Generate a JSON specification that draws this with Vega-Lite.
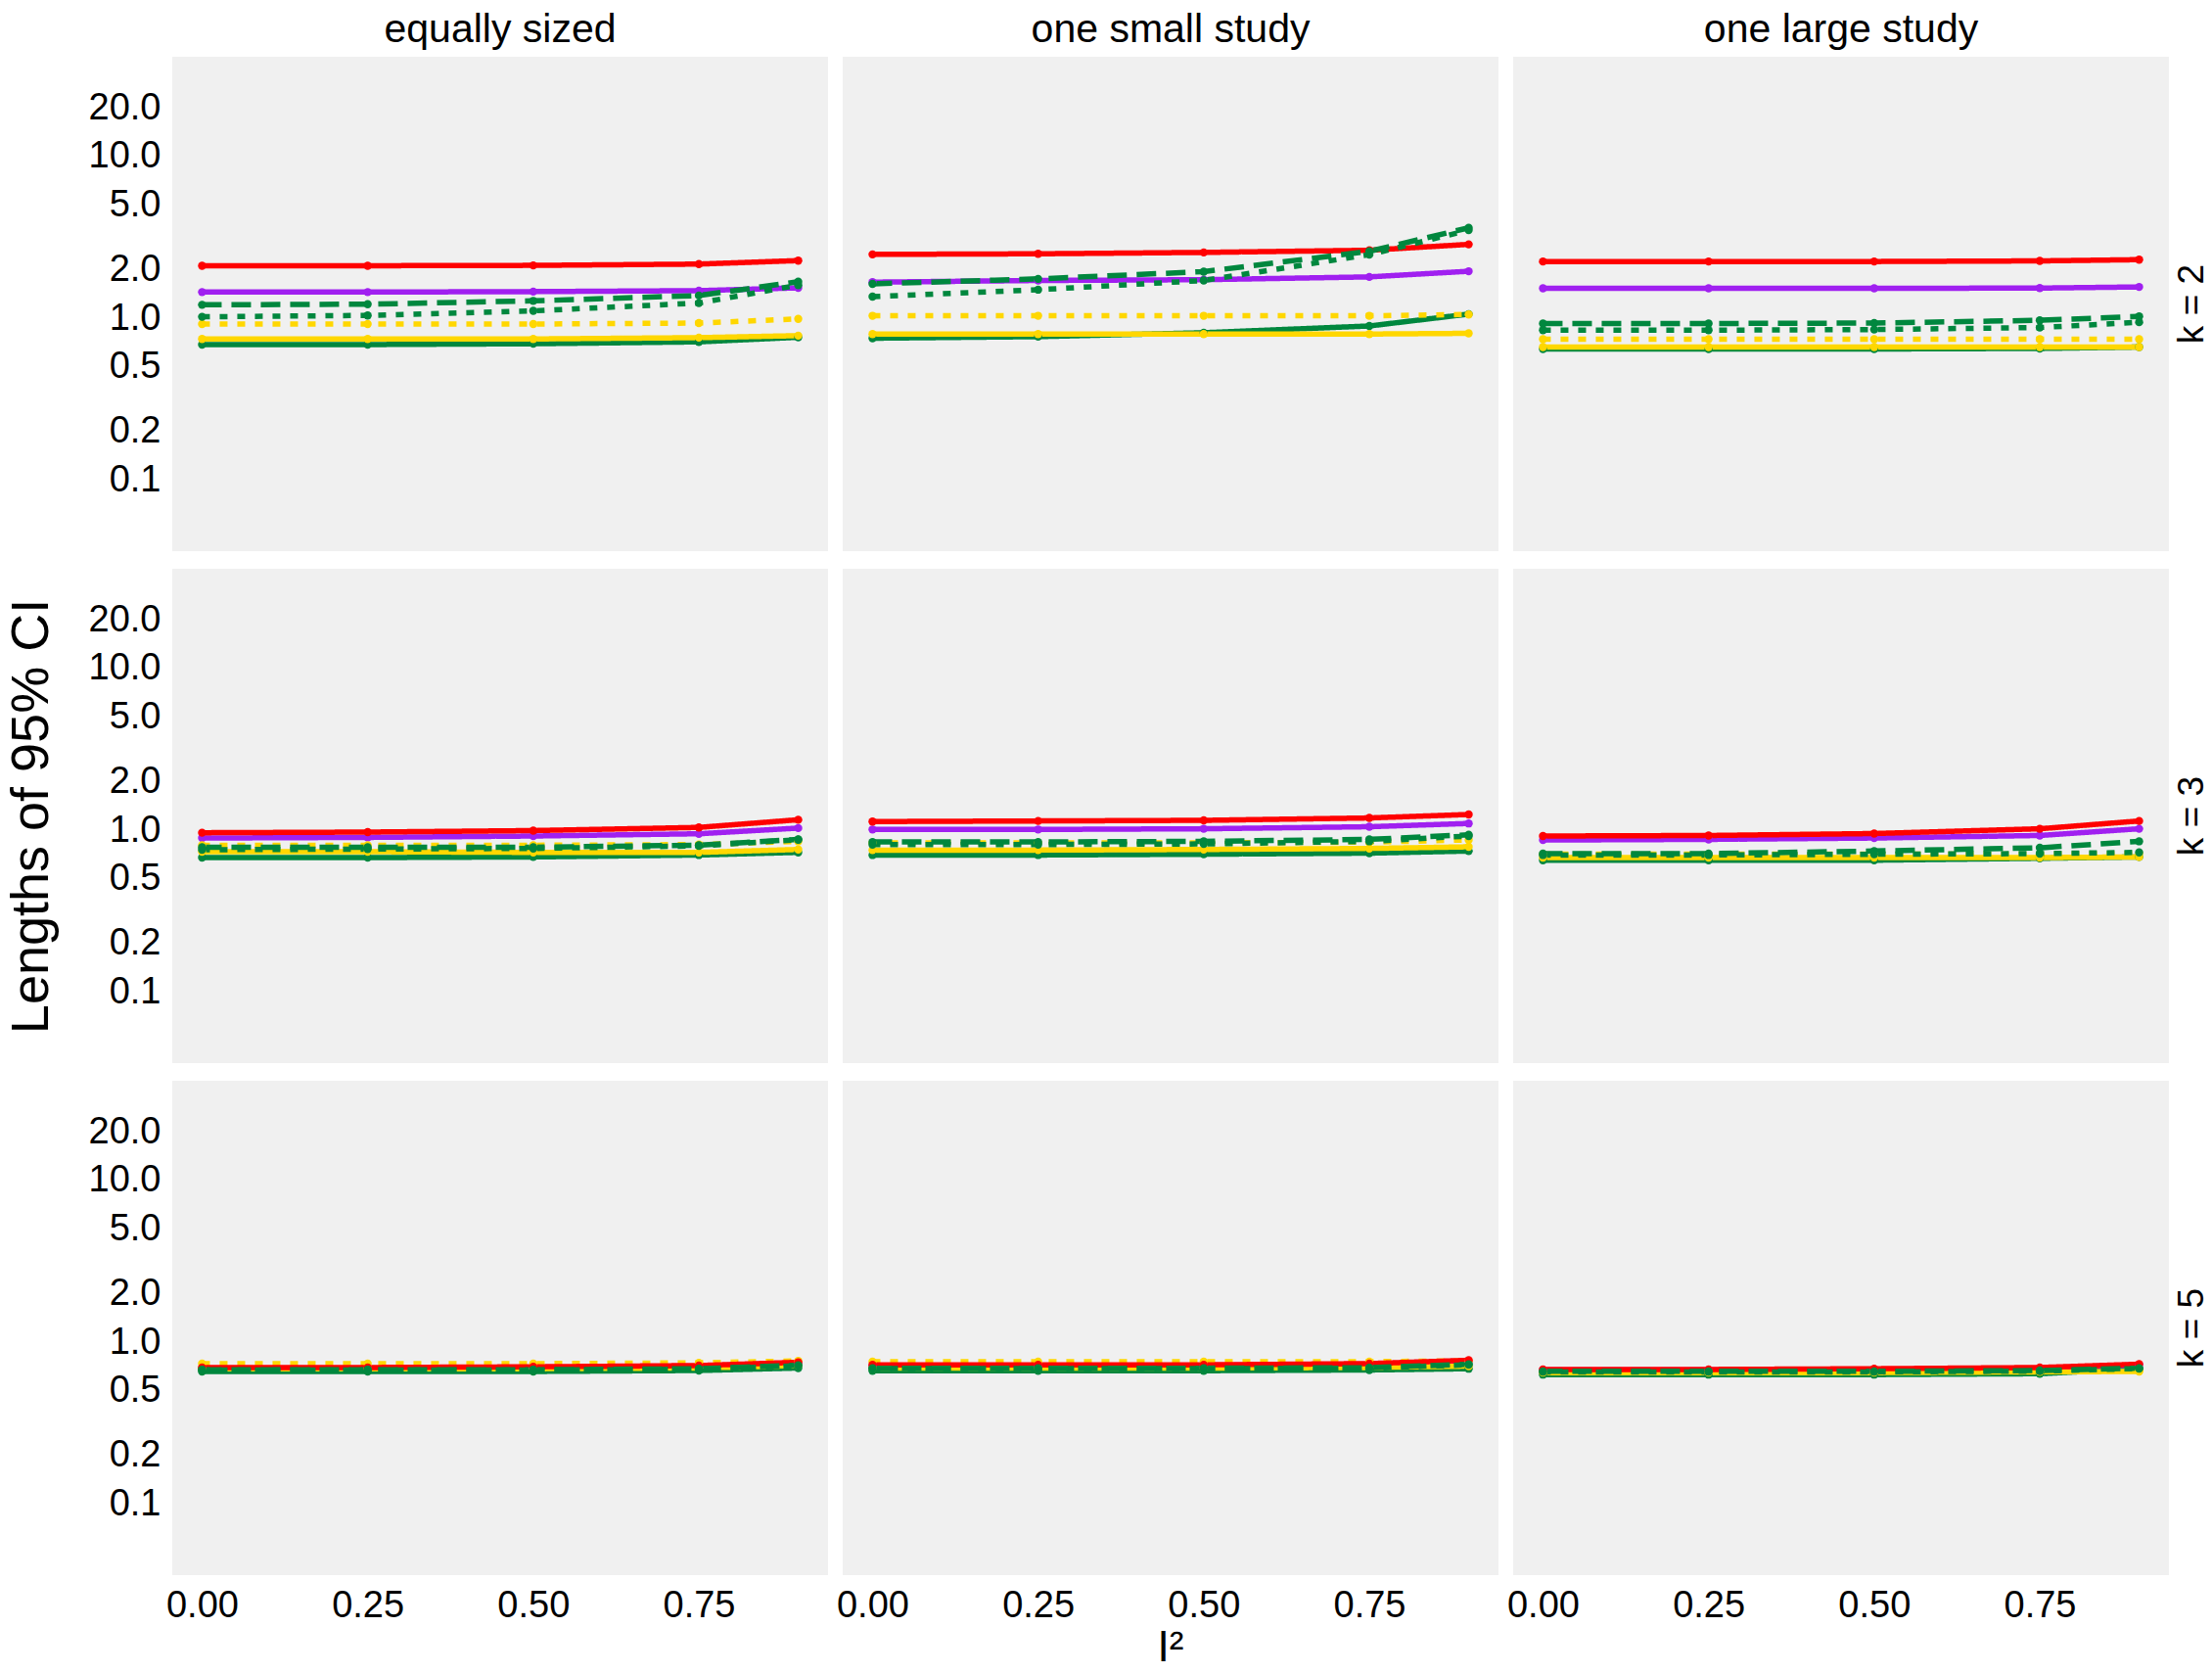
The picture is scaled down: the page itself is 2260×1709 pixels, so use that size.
{
"$schema": "https://vega.github.io/schema/vega-lite/v6.json",
"background": "white",
"padding": {"left": 5, "top": 10, "right": 0, "bottom": 0},
"datasets": {"ci": [
{"d":"equally sized","k":"k = 2","m":"m1","x":0,"y":0.687},{"d":"equally sized","k":"k = 2","m":"m1","x":0.25,"y":0.687},{"d":"equally sized","k":"k = 2","m":"m1","x":0.5,"y":0.695},{"d":"equally sized","k":"k = 2","m":"m1","x":0.75,"y":0.714},{"d":"equally sized","k":"k = 2","m":"m1","x":0.9,"y":0.762},
{"d":"equally sized","k":"k = 2","m":"m2","x":0,"y":1.45},{"d":"equally sized","k":"k = 2","m":"m2","x":0.25,"y":1.45},{"d":"equally sized","k":"k = 2","m":"m2","x":0.5,"y":1.46},{"d":"equally sized","k":"k = 2","m":"m2","x":0.75,"y":1.48},{"d":"equally sized","k":"k = 2","m":"m2","x":0.9,"y":1.54},
{"d":"equally sized","k":"k = 2","m":"m3","x":0,"y":0.744},{"d":"equally sized","k":"k = 2","m":"m3","x":0.25,"y":0.744},{"d":"equally sized","k":"k = 2","m":"m3","x":0.5,"y":0.744},{"d":"equally sized","k":"k = 2","m":"m3","x":0.75,"y":0.758},{"d":"equally sized","k":"k = 2","m":"m3","x":0.9,"y":0.78},
{"d":"equally sized","k":"k = 2","m":"m4","x":0,"y":0.92},{"d":"equally sized","k":"k = 2","m":"m4","x":0.25,"y":0.92},{"d":"equally sized","k":"k = 2","m":"m4","x":0.5,"y":0.92},{"d":"equally sized","k":"k = 2","m":"m4","x":0.75,"y":0.933},{"d":"equally sized","k":"k = 2","m":"m4","x":0.9,"y":0.99},
{"d":"equally sized","k":"k = 2","m":"m5","x":0,"y":2.11},{"d":"equally sized","k":"k = 2","m":"m5","x":0.25,"y":2.11},{"d":"equally sized","k":"k = 2","m":"m5","x":0.5,"y":2.12},{"d":"equally sized","k":"k = 2","m":"m5","x":0.75,"y":2.16},{"d":"equally sized","k":"k = 2","m":"m5","x":0.9,"y":2.27},
{"d":"equally sized","k":"k = 2","m":"m6","x":0,"y":1.02},{"d":"equally sized","k":"k = 2","m":"m6","x":0.25,"y":1.04},{"d":"equally sized","k":"k = 2","m":"m6","x":0.5,"y":1.11},{"d":"equally sized","k":"k = 2","m":"m6","x":0.75,"y":1.24},{"d":"equally sized","k":"k = 2","m":"m6","x":0.9,"y":1.6},
{"d":"equally sized","k":"k = 2","m":"m7","x":0,"y":1.21},{"d":"equally sized","k":"k = 2","m":"m7","x":0.25,"y":1.22},{"d":"equally sized","k":"k = 2","m":"m7","x":0.5,"y":1.28},{"d":"equally sized","k":"k = 2","m":"m7","x":0.75,"y":1.38},{"d":"equally sized","k":"k = 2","m":"m7","x":0.9,"y":1.68},

{"d":"one small study","k":"k = 2","m":"m1","x":0,"y":0.752},{"d":"one small study","k":"k = 2","m":"m1","x":0.25,"y":0.769},{"d":"one small study","k":"k = 2","m":"m1","x":0.5,"y":0.813},{"d":"one small study","k":"k = 2","m":"m1","x":0.75,"y":0.895},{"d":"one small study","k":"k = 2","m":"m1","x":0.9,"y":1.06},
{"d":"one small study","k":"k = 2","m":"m2","x":0,"y":1.67},{"d":"one small study","k":"k = 2","m":"m2","x":0.25,"y":1.71},{"d":"one small study","k":"k = 2","m":"m2","x":0.5,"y":1.73},{"d":"one small study","k":"k = 2","m":"m2","x":0.75,"y":1.8},{"d":"one small study","k":"k = 2","m":"m2","x":0.9,"y":1.95},
{"d":"one small study","k":"k = 2","m":"m3","x":0,"y":0.798},{"d":"one small study","k":"k = 2","m":"m3","x":0.25,"y":0.798},{"d":"one small study","k":"k = 2","m":"m3","x":0.5,"y":0.798},{"d":"one small study","k":"k = 2","m":"m3","x":0.75,"y":0.798},{"d":"one small study","k":"k = 2","m":"m3","x":0.9,"y":0.806},
{"d":"one small study","k":"k = 2","m":"m4","x":0,"y":1.035},{"d":"one small study","k":"k = 2","m":"m4","x":0.25,"y":1.035},{"d":"one small study","k":"k = 2","m":"m4","x":0.5,"y":1.035},{"d":"one small study","k":"k = 2","m":"m4","x":0.75,"y":1.035},{"d":"one small study","k":"k = 2","m":"m4","x":0.9,"y":1.054},
{"d":"one small study","k":"k = 2","m":"m5","x":0,"y":2.48},{"d":"one small study","k":"k = 2","m":"m5","x":0.25,"y":2.5},{"d":"one small study","k":"k = 2","m":"m5","x":0.5,"y":2.55},{"d":"one small study","k":"k = 2","m":"m5","x":0.75,"y":2.63},{"d":"one small study","k":"k = 2","m":"m5","x":0.9,"y":2.86},
{"d":"one small study","k":"k = 2","m":"m6","x":0,"y":1.36},{"d":"one small study","k":"k = 2","m":"m6","x":0.25,"y":1.5},{"d":"one small study","k":"k = 2","m":"m6","x":0.5,"y":1.71},{"d":"one small study","k":"k = 2","m":"m6","x":0.75,"y":2.47},{"d":"one small study","k":"k = 2","m":"m6","x":0.9,"y":3.5},
{"d":"one small study","k":"k = 2","m":"m7","x":0,"y":1.63},{"d":"one small study","k":"k = 2","m":"m7","x":0.25,"y":1.75},{"d":"one small study","k":"k = 2","m":"m7","x":0.5,"y":1.94},{"d":"one small study","k":"k = 2","m":"m7","x":0.75,"y":2.59},{"d":"one small study","k":"k = 2","m":"m7","x":0.9,"y":3.62},

{"d":"one large study","k":"k = 2","m":"m1","x":0,"y":0.645},{"d":"one large study","k":"k = 2","m":"m1","x":0.25,"y":0.645},{"d":"one large study","k":"k = 2","m":"m1","x":0.5,"y":0.645},{"d":"one large study","k":"k = 2","m":"m1","x":0.75,"y":0.65},{"d":"one large study","k":"k = 2","m":"m1","x":0.9,"y":0.663},
{"d":"one large study","k":"k = 2","m":"m2","x":0,"y":1.53},{"d":"one large study","k":"k = 2","m":"m2","x":0.25,"y":1.53},{"d":"one large study","k":"k = 2","m":"m2","x":0.5,"y":1.53},{"d":"one large study","k":"k = 2","m":"m2","x":0.75,"y":1.535},{"d":"one large study","k":"k = 2","m":"m2","x":0.9,"y":1.56},
{"d":"one large study","k":"k = 2","m":"m3","x":0,"y":0.663},{"d":"one large study","k":"k = 2","m":"m3","x":0.25,"y":0.663},{"d":"one large study","k":"k = 2","m":"m3","x":0.5,"y":0.663},{"d":"one large study","k":"k = 2","m":"m3","x":0.75,"y":0.663},{"d":"one large study","k":"k = 2","m":"m3","x":0.9,"y":0.663},
{"d":"one large study","k":"k = 2","m":"m4","x":0,"y":0.741},{"d":"one large study","k":"k = 2","m":"m4","x":0.25,"y":0.741},{"d":"one large study","k":"k = 2","m":"m4","x":0.5,"y":0.741},{"d":"one large study","k":"k = 2","m":"m4","x":0.75,"y":0.741},{"d":"one large study","k":"k = 2","m":"m4","x":0.9,"y":0.741},
{"d":"one large study","k":"k = 2","m":"m5","x":0,"y":2.24},{"d":"one large study","k":"k = 2","m":"m5","x":0.25,"y":2.24},{"d":"one large study","k":"k = 2","m":"m5","x":0.5,"y":2.24},{"d":"one large study","k":"k = 2","m":"m5","x":0.75,"y":2.26},{"d":"one large study","k":"k = 2","m":"m5","x":0.9,"y":2.3},
{"d":"one large study","k":"k = 2","m":"m6","x":0,"y":0.843},{"d":"one large study","k":"k = 2","m":"m6","x":0.25,"y":0.843},{"d":"one large study","k":"k = 2","m":"m6","x":0.5,"y":0.851},{"d":"one large study","k":"k = 2","m":"m6","x":0.75,"y":0.875},{"d":"one large study","k":"k = 2","m":"m6","x":0.9,"y":0.944},
{"d":"one large study","k":"k = 2","m":"m7","x":0,"y":0.927},{"d":"one large study","k":"k = 2","m":"m7","x":0.25,"y":0.927},{"d":"one large study","k":"k = 2","m":"m7","x":0.5,"y":0.933},{"d":"one large study","k":"k = 2","m":"m7","x":0.75,"y":0.97},{"d":"one large study","k":"k = 2","m":"m7","x":0.9,"y":1.025},

{"d":"equally sized","k":"k = 3","m":"m1","x":0,"y":0.677},{"d":"equally sized","k":"k = 3","m":"m1","x":0.25,"y":0.677},{"d":"equally sized","k":"k = 3","m":"m1","x":0.5,"y":0.683},{"d":"equally sized","k":"k = 3","m":"m1","x":0.75,"y":0.702},{"d":"equally sized","k":"k = 3","m":"m1","x":0.9,"y":0.729},
{"d":"equally sized","k":"k = 3","m":"m2","x":0,"y":0.894},{"d":"equally sized","k":"k = 3","m":"m2","x":0.25,"y":0.902},{"d":"equally sized","k":"k = 3","m":"m2","x":0.5,"y":0.92},{"d":"equally sized","k":"k = 3","m":"m2","x":0.75,"y":0.95},{"d":"equally sized","k":"k = 3","m":"m2","x":0.9,"y":1.03},
{"d":"equally sized","k":"k = 3","m":"m3","x":0,"y":0.736},{"d":"equally sized","k":"k = 3","m":"m3","x":0.25,"y":0.736},{"d":"equally sized","k":"k = 3","m":"m3","x":0.5,"y":0.729},{"d":"equally sized","k":"k = 3","m":"m3","x":0.75,"y":0.729},{"d":"equally sized","k":"k = 3","m":"m3","x":0.9,"y":0.76},
{"d":"equally sized","k":"k = 3","m":"m4","x":0,"y":0.807},{"d":"equally sized","k":"k = 3","m":"m4","x":0.25,"y":0.807},{"d":"equally sized","k":"k = 3","m":"m4","x":0.5,"y":0.807},{"d":"equally sized","k":"k = 3","m":"m4","x":0.75,"y":0.815},{"d":"equally sized","k":"k = 3","m":"m4","x":0.9,"y":0.853},
{"d":"equally sized","k":"k = 3","m":"m5","x":0,"y":0.964},{"d":"equally sized","k":"k = 3","m":"m5","x":0.25,"y":0.973},{"d":"equally sized","k":"k = 3","m":"m5","x":0.5,"y":0.994},{"d":"equally sized","k":"k = 3","m":"m5","x":0.75,"y":1.04},{"d":"equally sized","k":"k = 3","m":"m5","x":0.9,"y":1.16},
{"d":"equally sized","k":"k = 3","m":"m6","x":0,"y":0.757},{"d":"equally sized","k":"k = 3","m":"m6","x":0.25,"y":0.764},{"d":"equally sized","k":"k = 3","m":"m6","x":0.5,"y":0.771},{"d":"equally sized","k":"k = 3","m":"m6","x":0.75,"y":0.8},{"d":"equally sized","k":"k = 3","m":"m6","x":0.9,"y":0.873},
{"d":"equally sized","k":"k = 3","m":"m7","x":0,"y":0.785},{"d":"equally sized","k":"k = 3","m":"m7","x":0.25,"y":0.785},{"d":"equally sized","k":"k = 3","m":"m7","x":0.5,"y":0.785},{"d":"equally sized","k":"k = 3","m":"m7","x":0.75,"y":0.807},{"d":"equally sized","k":"k = 3","m":"m7","x":0.9,"y":0.877},

{"d":"one small study","k":"k = 3","m":"m1","x":0,"y":0.702},{"d":"one small study","k":"k = 3","m":"m1","x":0.25,"y":0.702},{"d":"one small study","k":"k = 3","m":"m1","x":0.5,"y":0.71},{"d":"one small study","k":"k = 3","m":"m1","x":0.75,"y":0.721},{"d":"one small study","k":"k = 3","m":"m1","x":0.9,"y":0.743},
{"d":"one small study","k":"k = 3","m":"m2","x":0,"y":1.01},{"d":"one small study","k":"k = 3","m":"m2","x":0.25,"y":1.01},{"d":"one small study","k":"k = 3","m":"m2","x":0.5,"y":1.02},{"d":"one small study","k":"k = 3","m":"m2","x":0.75,"y":1.05},{"d":"one small study","k":"k = 3","m":"m2","x":0.9,"y":1.1},
{"d":"one small study","k":"k = 3","m":"m3","x":0,"y":0.753},{"d":"one small study","k":"k = 3","m":"m3","x":0.25,"y":0.753},{"d":"one small study","k":"k = 3","m":"m3","x":0.5,"y":0.76},{"d":"one small study","k":"k = 3","m":"m3","x":0.75,"y":0.771},{"d":"one small study","k":"k = 3","m":"m3","x":0.9,"y":0.789},
{"d":"one small study","k":"k = 3","m":"m4","x":0,"y":0.835},{"d":"one small study","k":"k = 3","m":"m4","x":0.25,"y":0.835},{"d":"one small study","k":"k = 3","m":"m4","x":0.5,"y":0.835},{"d":"one small study","k":"k = 3","m":"m4","x":0.75,"y":0.843},{"d":"one small study","k":"k = 3","m":"m4","x":0.9,"y":0.87},
{"d":"one small study","k":"k = 3","m":"m5","x":0,"y":1.13},{"d":"one small study","k":"k = 3","m":"m5","x":0.25,"y":1.14},{"d":"one small study","k":"k = 3","m":"m5","x":0.5,"y":1.15},{"d":"one small study","k":"k = 3","m":"m5","x":0.75,"y":1.19},{"d":"one small study","k":"k = 3","m":"m5","x":0.9,"y":1.25},
{"d":"one small study","k":"k = 3","m":"m6","x":0,"y":0.815},{"d":"one small study","k":"k = 3","m":"m6","x":0.25,"y":0.815},{"d":"one small study","k":"k = 3","m":"m6","x":0.5,"y":0.822},{"d":"one small study","k":"k = 3","m":"m6","x":0.75,"y":0.853},{"d":"one small study","k":"k = 3","m":"m6","x":0.9,"y":0.92},
{"d":"one small study","k":"k = 3","m":"m7","x":0,"y":0.845},{"d":"one small study","k":"k = 3","m":"m7","x":0.25,"y":0.845},{"d":"one small study","k":"k = 3","m":"m7","x":0.5,"y":0.853},{"d":"one small study","k":"k = 3","m":"m7","x":0.75,"y":0.877},{"d":"one small study","k":"k = 3","m":"m7","x":0.9,"y":0.937},

{"d":"one large study","k":"k = 3","m":"m1","x":0,"y":0.652},{"d":"one large study","k":"k = 3","m":"m1","x":0.25,"y":0.652},{"d":"one large study","k":"k = 3","m":"m1","x":0.5,"y":0.652},{"d":"one large study","k":"k = 3","m":"m1","x":0.75,"y":0.67},{"d":"one large study","k":"k = 3","m":"m1","x":0.9,"y":0.683},
{"d":"one large study","k":"k = 3","m":"m2","x":0,"y":0.869},{"d":"one large study","k":"k = 3","m":"m2","x":0.25,"y":0.877},{"d":"one large study","k":"k = 3","m":"m2","x":0.5,"y":0.894},{"d":"one large study","k":"k = 3","m":"m2","x":0.75,"y":0.927},{"d":"one large study","k":"k = 3","m":"m2","x":0.9,"y":1.02},
{"d":"one large study","k":"k = 3","m":"m3","x":0,"y":0.677},{"d":"one large study","k":"k = 3","m":"m3","x":0.25,"y":0.677},{"d":"one large study","k":"k = 3","m":"m3","x":0.5,"y":0.677},{"d":"one large study","k":"k = 3","m":"m3","x":0.75,"y":0.677},{"d":"one large study","k":"k = 3","m":"m3","x":0.9,"y":0.683},
{"d":"one large study","k":"k = 3","m":"m4","x":0,"y":0.71},{"d":"one large study","k":"k = 3","m":"m4","x":0.25,"y":0.71},{"d":"one large study","k":"k = 3","m":"m4","x":0.5,"y":0.71},{"d":"one large study","k":"k = 3","m":"m4","x":0.75,"y":0.71},{"d":"one large study","k":"k = 3","m":"m4","x":0.9,"y":0.716},
{"d":"one large study","k":"k = 3","m":"m5","x":0,"y":0.92},{"d":"one large study","k":"k = 3","m":"m5","x":0.25,"y":0.927},{"d":"one large study","k":"k = 3","m":"m5","x":0.5,"y":0.953},{"d":"one large study","k":"k = 3","m":"m5","x":0.75,"y":1.02},{"d":"one large study","k":"k = 3","m":"m5","x":0.9,"y":1.14},
{"d":"one large study","k":"k = 3","m":"m6","x":0,"y":0.702},{"d":"one large study","k":"k = 3","m":"m6","x":0.25,"y":0.702},{"d":"one large study","k":"k = 3","m":"m6","x":0.5,"y":0.71},{"d":"one large study","k":"k = 3","m":"m6","x":0.75,"y":0.716},{"d":"one large study","k":"k = 3","m":"m6","x":0.9,"y":0.729},
{"d":"one large study","k":"k = 3","m":"m7","x":0,"y":0.716},{"d":"one large study","k":"k = 3","m":"m7","x":0.25,"y":0.716},{"d":"one large study","k":"k = 3","m":"m7","x":0.5,"y":0.743},{"d":"one large study","k":"k = 3","m":"m7","x":0.75,"y":0.778},{"d":"one large study","k":"k = 3","m":"m7","x":0.9,"y":0.853},

{"d":"equally sized","k":"k = 5","m":"m1","x":0,"y":0.659},{"d":"equally sized","k":"k = 5","m":"m1","x":0.25,"y":0.659},{"d":"equally sized","k":"k = 5","m":"m1","x":0.5,"y":0.659},{"d":"equally sized","k":"k = 5","m":"m1","x":0.75,"y":0.668},{"d":"equally sized","k":"k = 5","m":"m1","x":0.9,"y":0.692},
{"d":"equally sized","k":"k = 5","m":"m2","x":0,"y":0.69},{"d":"equally sized","k":"k = 5","m":"m2","x":0.25,"y":0.69},{"d":"equally sized","k":"k = 5","m":"m2","x":0.5,"y":0.695},{"d":"equally sized","k":"k = 5","m":"m2","x":0.75,"y":0.71},{"d":"equally sized","k":"k = 5","m":"m2","x":0.9,"y":0.745},
{"d":"equally sized","k":"k = 5","m":"m3","x":0,"y":0.685},{"d":"equally sized","k":"k = 5","m":"m3","x":0.25,"y":0.685},{"d":"equally sized","k":"k = 5","m":"m3","x":0.5,"y":0.685},{"d":"equally sized","k":"k = 5","m":"m3","x":0.75,"y":0.692},{"d":"equally sized","k":"k = 5","m":"m3","x":0.9,"y":0.717},
{"d":"equally sized","k":"k = 5","m":"m4","x":0,"y":0.737},{"d":"equally sized","k":"k = 5","m":"m4","x":0.25,"y":0.737},{"d":"equally sized","k":"k = 5","m":"m4","x":0.5,"y":0.737},{"d":"equally sized","k":"k = 5","m":"m4","x":0.75,"y":0.745},{"d":"equally sized","k":"k = 5","m":"m4","x":0.9,"y":0.766},
{"d":"equally sized","k":"k = 5","m":"m5","x":0,"y":0.697},{"d":"equally sized","k":"k = 5","m":"m5","x":0.25,"y":0.697},{"d":"equally sized","k":"k = 5","m":"m5","x":0.5,"y":0.704},{"d":"equally sized","k":"k = 5","m":"m5","x":0.75,"y":0.717},{"d":"equally sized","k":"k = 5","m":"m5","x":0.9,"y":0.751},
{"d":"equally sized","k":"k = 5","m":"m6","x":0,"y":0.672},{"d":"equally sized","k":"k = 5","m":"m6","x":0.25,"y":0.672},{"d":"equally sized","k":"k = 5","m":"m6","x":0.5,"y":0.672},{"d":"equally sized","k":"k = 5","m":"m6","x":0.75,"y":0.68},{"d":"equally sized","k":"k = 5","m":"m6","x":0.9,"y":0.715},
{"d":"equally sized","k":"k = 5","m":"m7","x":0,"y":0.675},{"d":"equally sized","k":"k = 5","m":"m7","x":0.25,"y":0.675},{"d":"equally sized","k":"k = 5","m":"m7","x":0.5,"y":0.675},{"d":"equally sized","k":"k = 5","m":"m7","x":0.75,"y":0.685},{"d":"equally sized","k":"k = 5","m":"m7","x":0.9,"y":0.72},

{"d":"one small study","k":"k = 5","m":"m1","x":0,"y":0.666},{"d":"one small study","k":"k = 5","m":"m1","x":0.25,"y":0.666},{"d":"one small study","k":"k = 5","m":"m1","x":0.5,"y":0.666},{"d":"one small study","k":"k = 5","m":"m1","x":0.75,"y":0.673},{"d":"one small study","k":"k = 5","m":"m1","x":0.9,"y":0.685},
{"d":"one small study","k":"k = 5","m":"m2","x":0,"y":0.715},{"d":"one small study","k":"k = 5","m":"m2","x":0.25,"y":0.715},{"d":"one small study","k":"k = 5","m":"m2","x":0.5,"y":0.718},{"d":"one small study","k":"k = 5","m":"m2","x":0.75,"y":0.728},{"d":"one small study","k":"k = 5","m":"m2","x":0.9,"y":0.76},
{"d":"one small study","k":"k = 5","m":"m3","x":0,"y":0.692},{"d":"one small study","k":"k = 5","m":"m3","x":0.25,"y":0.692},{"d":"one small study","k":"k = 5","m":"m3","x":0.5,"y":0.692},{"d":"one small study","k":"k = 5","m":"m3","x":0.75,"y":0.697},{"d":"one small study","k":"k = 5","m":"m3","x":0.9,"y":0.711},
{"d":"one small study","k":"k = 5","m":"m4","x":0,"y":0.758},{"d":"one small study","k":"k = 5","m":"m4","x":0.25,"y":0.758},{"d":"one small study","k":"k = 5","m":"m4","x":0.5,"y":0.758},{"d":"one small study","k":"k = 5","m":"m4","x":0.75,"y":0.758},{"d":"one small study","k":"k = 5","m":"m4","x":0.9,"y":0.766},
{"d":"one small study","k":"k = 5","m":"m5","x":0,"y":0.724},{"d":"one small study","k":"k = 5","m":"m5","x":0.25,"y":0.724},{"d":"one small study","k":"k = 5","m":"m5","x":0.5,"y":0.724},{"d":"one small study","k":"k = 5","m":"m5","x":0.75,"y":0.737},{"d":"one small study","k":"k = 5","m":"m5","x":0.9,"y":0.773},
{"d":"one small study","k":"k = 5","m":"m6","x":0,"y":0.686},{"d":"one small study","k":"k = 5","m":"m6","x":0.25,"y":0.686},{"d":"one small study","k":"k = 5","m":"m6","x":0.5,"y":0.686},{"d":"one small study","k":"k = 5","m":"m6","x":0.75,"y":0.69},{"d":"one small study","k":"k = 5","m":"m6","x":0.9,"y":0.725},
{"d":"one small study","k":"k = 5","m":"m7","x":0,"y":0.69},{"d":"one small study","k":"k = 5","m":"m7","x":0.25,"y":0.69},{"d":"one small study","k":"k = 5","m":"m7","x":0.5,"y":0.69},{"d":"one small study","k":"k = 5","m":"m7","x":0.75,"y":0.695},{"d":"one small study","k":"k = 5","m":"m7","x":0.9,"y":0.73},

{"d":"one large study","k":"k = 5","m":"m1","x":0,"y":0.63},{"d":"one large study","k":"k = 5","m":"m1","x":0.25,"y":0.63},{"d":"one large study","k":"k = 5","m":"m1","x":0.5,"y":0.63},{"d":"one large study","k":"k = 5","m":"m1","x":0.75,"y":0.638},{"d":"one large study","k":"k = 5","m":"m1","x":0.9,"y":0.685},
{"d":"one large study","k":"k = 5","m":"m2","x":0,"y":0.672},{"d":"one large study","k":"k = 5","m":"m2","x":0.25,"y":0.672},{"d":"one large study","k":"k = 5","m":"m2","x":0.5,"y":0.678},{"d":"one large study","k":"k = 5","m":"m2","x":0.75,"y":0.69},{"d":"one large study","k":"k = 5","m":"m2","x":0.9,"y":0.725},
{"d":"one large study","k":"k = 5","m":"m3","x":0,"y":0.648},{"d":"one large study","k":"k = 5","m":"m3","x":0.25,"y":0.648},{"d":"one large study","k":"k = 5","m":"m3","x":0.5,"y":0.648},{"d":"one large study","k":"k = 5","m":"m3","x":0.75,"y":0.655},{"d":"one large study","k":"k = 5","m":"m3","x":0.9,"y":0.659},
{"d":"one large study","k":"k = 5","m":"m4","x":0,"y":0.66},{"d":"one large study","k":"k = 5","m":"m4","x":0.25,"y":0.66},{"d":"one large study","k":"k = 5","m":"m4","x":0.5,"y":0.66},{"d":"one large study","k":"k = 5","m":"m4","x":0.75,"y":0.662},{"d":"one large study","k":"k = 5","m":"m4","x":0.9,"y":0.665},
{"d":"one large study","k":"k = 5","m":"m5","x":0,"y":0.678},{"d":"one large study","k":"k = 5","m":"m5","x":0.25,"y":0.678},{"d":"one large study","k":"k = 5","m":"m5","x":0.5,"y":0.685},{"d":"one large study","k":"k = 5","m":"m5","x":0.75,"y":0.697},{"d":"one large study","k":"k = 5","m":"m5","x":0.9,"y":0.731},
{"d":"one large study","k":"k = 5","m":"m6","x":0,"y":0.655},{"d":"one large study","k":"k = 5","m":"m6","x":0.25,"y":0.655},{"d":"one large study","k":"k = 5","m":"m6","x":0.5,"y":0.655},{"d":"one large study","k":"k = 5","m":"m6","x":0.75,"y":0.662},{"d":"one large study","k":"k = 5","m":"m6","x":0.9,"y":0.687},
{"d":"one large study","k":"k = 5","m":"m7","x":0,"y":0.66},{"d":"one large study","k":"k = 5","m":"m7","x":0.25,"y":0.66},{"d":"one large study","k":"k = 5","m":"m7","x":0.5,"y":0.66},{"d":"one large study","k":"k = 5","m":"m7","x":0.75,"y":0.668},{"d":"one large study","k":"k = 5","m":"m7","x":0.9,"y":0.69}
]},
"data": {"name": "ci"},
"facet": {
  "column": {"field": "d", "type": "nominal", "sort": ["equally sized", "one small study", "one large study"], "title": "I²",
    "header": {"labelOrient": "top", "titleOrient": "bottom", "labelFontSize": 41, "titleFontSize": 44, "labelPadding": 6, "titlePadding": -7}},
  "row": {"field": "k", "type": "nominal", "sort": ["k = 2", "k = 3", "k = 5"], "title": "Lengths of 95% CI",
    "header": {"labelOrient": "right", "titleOrient": "left", "labelAngle": 270, "titleAngle": 270, "labelFontSize": 37, "titleFontSize": 54, "labelPadding": 6, "titlePadding": -34}}
},
"spacing": {"row": 18, "column": 15},
"spec": {
  "width": 670,
  "height": 505,
  "mark": {"type": "line", "strokeWidth": 5.5, "point": {"filled": true, "size": 70, "opacity": 1}},
  "encoding": {
    "x": {"field": "x", "type": "quantitative", "scale": {"domain": [-0.045, 0.945], "nice": false, "zero": false},
      "axis": {"values": [0, 0.25, 0.5, 0.75], "format": ".2f", "title": null}},
    "y": {"field": "y", "type": "quantitative", "scale": {"type": "log", "domain": [0.0363, 41.3], "nice": false},
      "axis": {"values": [0.1, 0.2, 0.5, 1, 2, 5, 10, 20], "format": ".1f", "title": null}},
    "color": {"field": "m", "type": "nominal", "legend": null,
      "scale": {"domain": ["m1", "m2", "m3", "m4", "m5", "m6", "m7"], "range": ["#00873E", "#A020F0", "#FFD700", "#FFD700", "#FF0000", "#00873E", "#00873E"]}},
    "strokeDash": {"field": "m", "type": "nominal", "legend": null,
      "scale": {"domain": ["m1", "m2", "m3", "m4", "m5", "m6", "m7"], "range": [[1, 0], [1, 0], [1, 0], [8, 10], [1, 0], [8, 10], [20, 10]]}}
  }
},
"config": {
  "font": "Liberation Sans",
  "view": {"fill": "#F0F0F0", "stroke": null},
  "axis": {"domain": false, "ticks": false, "grid": false, "labelFontSize": 38, "labelColor": "black", "labelPadding": 12, "labelFont": "Liberation Sans"},
  "header": {"labelColor": "black", "titleColor": "black", "titleFontWeight": "normal", "labelFont": "Liberation Sans", "titleFont": "Liberation Sans"}
}
}
